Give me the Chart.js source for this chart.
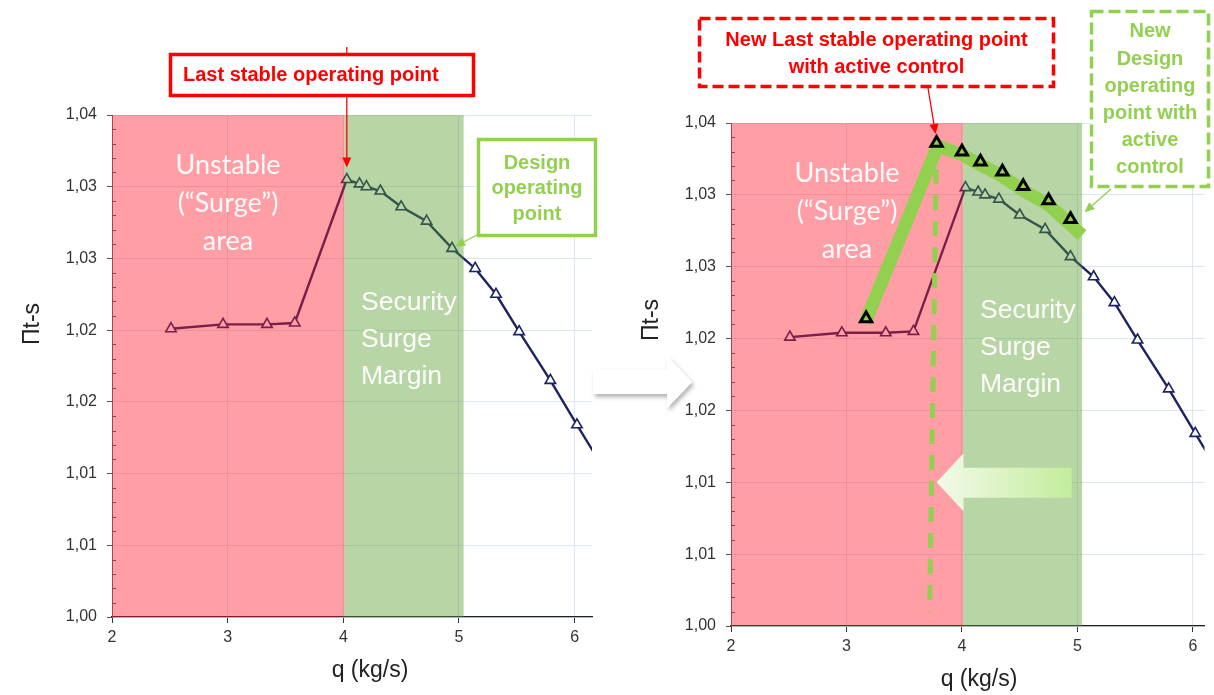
<!DOCTYPE html>
<html>
<head>
<meta charset="utf-8">
<script src="https://cdn.jsdelivr.net/npm/chart.js@4.4.1/dist/chart.umd.min.js"></script>
<style>
  body { margin:0; background:#fff; width:1214px; height:695px; overflow:hidden; position:relative; font-family:"Liberation Sans", Arial, sans-serif; }
  canvas { position:absolute; top:0; }
  #left { left:0; }
  #right { left:607px; }
  svg { position:absolute; left:0; top:0; }
  .note { position:absolute; display:flex; flex-direction:column; justify-content:center; align-items:center; font-weight:bold; font-size:20px; text-align:center; white-space:nowrap; }
  .red { color:#ff0000; }
  .green { color:#92d050; }
</style>
</head>
<body>
<canvas id="left" width="607" height="695"></canvas>
<canvas id="right" width="607" height="695"></canvas>

<svg width="1214" height="695">
  <defs>
    <filter id="sh" x="-20%" y="-20%" width="150%" height="160%">
      <feDropShadow dx="2" dy="3" stdDeviation="2" flood-color="#000" flood-opacity="0.3"/>
    </filter>
  </defs>
  <rect x="170.5" y="54.5" width="303" height="41" fill="#fff" stroke="#ff0000" stroke-width="3.5"/>
  <rect x="478.5" y="139.5" width="117" height="96" fill="#fff" stroke="#92d050" stroke-width="3.5"/>
  <rect x="699.5" y="18.5" width="354" height="68" fill="#fff" stroke="#ff0000" stroke-width="3.5" stroke-dasharray="11 5"/>
  <rect x="1091.5" y="11.5" width="117" height="175" fill="#fff" stroke="#92d050" stroke-width="3.5" stroke-dasharray="12 5"/>
  <polygon points="593,369 667,369 667,356 692,382 667,408 667,394 593,394" fill="#fff" filter="url(#sh)"/>
</svg>

<div class="note red" style="left:169px;top:53px;width:306px;height:43px;align-items:flex-start;padding-left:14px;box-sizing:border-box;">Last stable operating point</div>
<div class="note green" style="left:477px;top:138px;width:120px;height:100px;line-height:25.5px;">
  <div>Design</div><div>operating</div><div>point</div>
</div>
<div class="note red" style="left:698px;top:17px;width:357px;height:72px;line-height:27px;">
  <div>New Last stable operating point</div><div>with active control</div>
</div>
<div class="note green" style="left:1090px;top:10px;width:120px;height:178px;line-height:27.2px;">
  <div>New</div><div>Design</div><div>operating</div><div>point with</div><div>active</div><div>control</div>
</div>

<script>
// compressor characteristic (q in kg/s, pressure ratio Πt-s)
const qMain = [2.51, 2.96, 3.34, 3.58, 4.03, 4.14, 4.20, 4.32, 4.50, 4.72, 4.94, 5.14, 5.32, 5.52, 5.79, 6.02, 6.30]
const piMain = [1.0201, 1.0204, 1.0204, 1.0205, 1.0305, 1.0302, 1.0300, 1.0297, 1.0286, 1.0276, 1.0257, 1.0243, 1.0225, 1.0199, 1.0165, 1.0134, 1.0097]

// with active control
const qActive = [3.17, 3.78, 4.00, 4.16, 4.35, 4.53, 4.75, 4.94]
const piActive = [1.0214, 1.0336, 1.0330, 1.0323, 1.0316, 1.0306, 1.0296, 1.0283]
const qBand = [3.16, 3.79, 4.00, 4.16, 4.35, 4.53, 4.75, 5.04]
const piBand = [1.0211, 1.0334, 1.0328, 1.0321, 1.0313, 1.0303, 1.0293, 1.0272]

// zones
const unstableZone = [2, 4.01]
const marginZone = [4.01, 5.04]

// new surge line and shift arrow
const surgeLineQ = [3.78, 3.72]
const surgeLinePi = [1.0336, 1.001]
const shiftArrowQ = [4.95, 3.78]
const shiftArrowPi = 1.0100

const xTickLabels = ['2', '3', '4', '5', '6']
const yTickLabels = ['1,00', '1,01', '1,01', '1,02', '1,02', '1,03', '1,03', '1,04']

const FONT = '"Liberation Sans", Arial, sans-serif'

function pts(xs, ys) {
  return xs.map((x, i) => ({ x: x, y: ys[i] }))
}

function arrow(ctx, x1, y1, x2, y2, color, w, head) {
  const a = Math.atan2(y2 - y1, x2 - x1)
  const c = Math.cos(a), s = Math.sin(a)
  ctx.save()
  ctx.strokeStyle = color
  ctx.fillStyle = color
  ctx.lineWidth = w
  ctx.beginPath()
  ctx.moveTo(x1, y1)
  ctx.lineTo(x2 - c * head * 0.8, y2 - s * head * 0.8)
  ctx.stroke()
  ctx.beginPath()
  ctx.moveTo(x2, y2)
  ctx.lineTo(x2 - head * c + head * 0.45 * s, y2 - head * s - head * 0.45 * c)
  ctx.lineTo(x2 - head * c - head * 0.45 * s, y2 - head * s + head * 0.45 * c)
  ctx.closePath()
  ctx.fill()
  ctx.restore()
}

function makeChart(id, L) {

  const datasets = [{
    data: pts(qMain, piMain),
    borderColor: '#1b2363',
    borderWidth: 2.4,
    tension: 0,
    pointStyle: 'triangle',
    pointRadius: 6,
    pointBorderWidth: 1.6,
    pointBackgroundColor: '#fff',
    pointBorderColor: '#1b2363',
    order: 3
  }]

  if (L.active) {
    datasets.push({
      data: pts(qBand, piBand),
      borderColor: '#92d050',
      borderWidth: 13,
      borderCapStyle: 'butt',
      borderJoinStyle: 'miter',
      tension: 0,
      pointRadius: 0,
      order: 2
    })
    datasets.push({
      data: pts(qActive, piActive),
      showLine: false,
      pointStyle: 'triangle',
      pointRadius: 6.5,
      pointBorderWidth: 3,
      pointBorderColor: '#000',
      pointBackgroundColor: '#92d050',
      order: 1
    })
  }

  const deco = {
    id: 'deco',
    beforeDraw(c) {
      const ctx = c.ctx
      ctx.save()
      ctx.fillStyle = '#fff'
      ctx.fillRect(0, 0, c.width, c.height)
      ctx.restore()
    },
    beforeDatasetsDraw(c) {
      // minor ticks on the y axis (inside)
      const ctx = c.ctx, ys = c.scales.y, left = c.chartArea.left
      ctx.save()
      ctx.strokeStyle = '#555'
      ctx.lineWidth = 1
      for (let i = 0; i <= 35; i++) {
        if (i % 5 === 0) continue
        const y = Math.round(ys.getPixelForValue(1 + i * 0.001)) + 0.5
        ctx.beginPath()
        ctx.moveTo(left, y)
        ctx.lineTo(left + 4, y)
        ctx.stroke()
      }
      ctx.restore()
    },
    afterDatasetDraw(c, args) {
      if (args.index !== 0) return
      const ctx = c.ctx, a = c.chartArea, xs = c.scales.x, ys = c.scales.y
      ctx.save()
      // zones over the curve
      let x0 = xs.getPixelForValue(unstableZone[0]), x1 = xs.getPixelForValue(unstableZone[1])
      ctx.fillStyle = 'rgba(255,25,40,0.42)'
      ctx.fillRect(x0, a.top, x1 - x0, a.bottom - a.top)
      x0 = xs.getPixelForValue(marginZone[0]); x1 = xs.getPixelForValue(marginZone[1])
      ctx.fillStyle = 'rgba(86,155,43,0.42)'
      ctx.fillRect(x0, a.top, x1 - x0, a.bottom - a.top)

      // zone labels
      ctx.fillStyle = 'rgba(255,255,255,0.95)'
      ctx.textBaseline = 'middle'
      ctx.textAlign = 'center'
      ctx.font = '27px Lato, "Open Sans", sans-serif'
      ;['Unstable', '(\u201cSurge\u201d)', 'area'].forEach((t, i) => {
        ctx.fillText(t, a.left + 116, a.top + 50 + i * 38)
      })
      ctx.textAlign = 'left'
      ctx.font = '26.5px ' + FONT
      ;['Security', 'Surge', 'Margin'].forEach((t, i) => {
        ctx.fillText(t, a.left + 249, a.top + 188 + i * 37)
      })

      if (L.active) {
        // shift arrow
        const tipX = xs.getPixelForValue(shiftArrowQ[1])
        const endX = xs.getPixelForValue(shiftArrowQ[0])
        const yc = ys.getPixelForValue(shiftArrowPi)
        const g = ctx.createLinearGradient(tipX, 0, endX, 0)
        g.addColorStop(0, '#f2faea')
        g.addColorStop(1, '#c3ec9b')
        ctx.fillStyle = g
        ctx.beginPath()
        ctx.moveTo(tipX, yc)
        ctx.lineTo(tipX + 27, yc - 29)
        ctx.lineTo(tipX + 27, yc - 14.5)
        ctx.lineTo(endX, yc - 14.5)
        ctx.lineTo(endX, yc + 15.5)
        ctx.lineTo(tipX + 27, yc + 15.5)
        ctx.lineTo(tipX + 27, yc + 29)
        ctx.closePath()
        ctx.fill()

        // new surge line
        ctx.strokeStyle = '#92d050'
        ctx.lineWidth = 5
        ctx.setLineDash([15, 11])
        ctx.beginPath()
        ctx.moveTo(xs.getPixelForValue(surgeLineQ[0]), ys.getPixelForValue(surgeLinePi[0]))
        ctx.lineTo(xs.getPixelForValue(surgeLineQ[1]), ys.getPixelForValue(surgeLinePi[1]))
        ctx.stroke()
        ctx.setLineDash([])
      }
      ctx.restore()
    },
    afterDraw(c) {
      const ctx = c.ctx, a = c.chartArea, xs = c.scales.x, ys = c.scales.y
      ctx.save()
      ctx.fillStyle = '#222'
      ctx.textAlign = 'center'
      ctx.textBaseline = 'middle'
      ctx.font = '23px ' + FONT
      ctx.fillText('q (kg/s)', a.left + L.xTitleDx, a.bottom + 54)
      ctx.translate(L.yTitle[0], L.yTitle[1])
      ctx.rotate(-Math.PI / 2)
      ctx.fillText('\u03a0t-s', 0, 0)
      ctx.restore()
      L.arrows(ctx, xs, ys)
    }
  }

  return new Chart(document.getElementById(id), {
    type: 'line',
    data: { datasets: datasets },
    options: {
      responsive: false,
      animation: false,
      devicePixelRatio: 1,
      layout: { padding: { top: L.padTop, right: L.padRight, left: 0, bottom: 0 } },
      plugins: { legend: { display: false }, tooltip: { enabled: false } },
      scales: {
        x: {
          type: 'linear',
          min: 2,
          max: L.xMax,
          afterFit: s => { s.height = L.xHeight },
          ticks: {
            stepSize: 1,
            includeBounds: false,
            color: '#333',
            padding: 5,
            font: { family: FONT, size: 16 },
            callback: (v, i) => xTickLabels[i]
          },
          grid: { color: '#dde7f3', tickColor: '#333', tickLength: 6 },
          border: { color: '#222', width: 1.2 }
        },
        y: {
          min: 1,
          max: 1.035,
          afterFit: s => { s.width = L.yWidth },
          ticks: {
            stepSize: 0.005,
            color: '#333',
            padding: 10,
            font: { family: FONT, size: 16 },
            callback: (v, i) => yTickLabels[i]
          },
          grid: { color: '#dde7f3', tickColor: '#555', tickLength: 5 },
          border: { color: '#666', width: 1 }
        }
      }
    },
    plugins: [deco]
  })
}

makeChart('left', {
  active: false,
  xMax: 6.15,
  yWidth: 112,
  xHeight: 78,
  padTop: 115,
  padRight: 15,
  xTitleDx: 258,
  yTitle: [33, 324],
  arrows(ctx, xs, ys) {
    const px = xs.getPixelForValue(qMain[4]), py = ys.getPixelForValue(piMain[4])
    arrow(ctx, px, 47, px, py - 12, '#ff0000', 1.3, 10)
    const dx = xs.getPixelForValue(qMain[10]), dy = ys.getPixelForValue(piMain[10])
    arrow(ctx, 479, 234, dx + 3, dy - 2, '#92d050', 1.3, 10)
  }
})

makeChart('right', {
  active: true,
  xMax: 6.1,
  yWidth: 124,
  xHeight: 69,
  padTop: 123,
  padRight: 9,
  xTitleDx: 248,
  yTitle: [45, 320],
  arrows(ctx, xs, ys) {
    const px = xs.getPixelForValue(qActive[1]), py = ys.getPixelForValue(piActive[1])
    arrow(ctx, 321, 88, px - 1, py - 9, '#ff0000', 1.3, 10)
    const dx = xs.getPixelForValue(qActive[7]), dy = ys.getPixelForValue(piActive[7])
    arrow(ctx, 504, 189, dx + 14, dy - 7, '#92d050', 1.3, 10)
  }
})
</script>
</body>
</html>
